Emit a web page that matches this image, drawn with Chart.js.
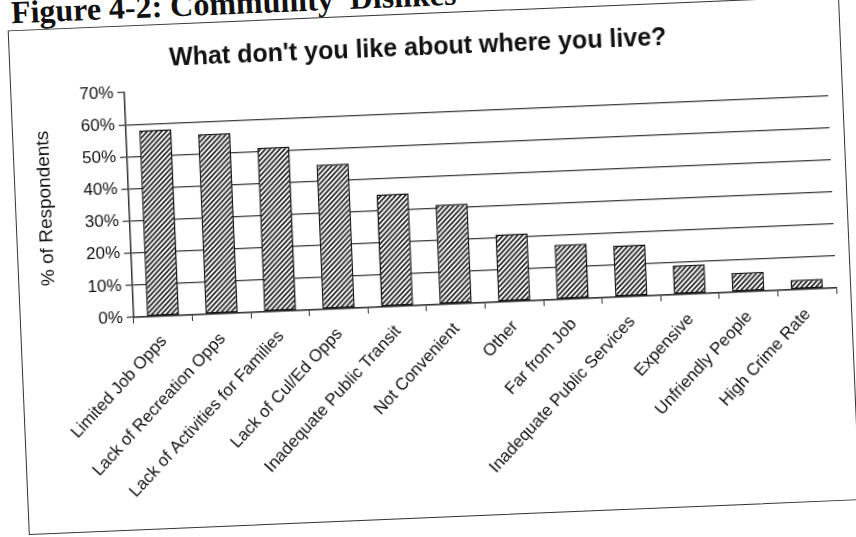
<!DOCTYPE html>
<html>
<head>
<meta charset="utf-8">
<script src="https://cdn.jsdelivr.net/npm/chart.js@4.4.0/dist/chart.umd.min.js"></script>
<style>
  html, body { margin: 0; padding: 0; background: #fff; overflow: hidden; }
  #page {
    position: absolute; left: 0; top: 0; width: 856px; height: 537px;
    transform: rotate(-2.4deg); transform-origin: 428px 268px;
  }
  #caption {
    position: absolute; left: 22px; top: -21px;
    font: bold 32px "Liberation Serif", "Times New Roman", serif;
    line-height: 1; white-space: pre; color: #111;
  }
  #frame {
    position: absolute; left: 18px; top: 13px; width: 832px; height: 505px;
    border: 1.5px solid #333; box-sizing: border-box;
  }
  #frame .wrap { position: absolute; left: 0; top: 0; right: 0; bottom: 0; }
</style>
</head>
<body>
<div id="page">
  <div id="caption">Figure 4-2: Community  Dislikes</div>
  <div id="frame"><div class="wrap"><canvas id="js--dislikes"></canvas></div></div>
</div>
<script>
const categories = [
  "Limited Job Opps",
  "Lack of Recreation Opps",
  "Lack of Activities for Families",
  "Lack of Cul/Ed Opps",
  "Inadequate Public Transit",
  "Not Convenient",
  "Other",
  "Far from Job",
  "Inadequate Public Services",
  "Expensive",
  "Unfriendly People",
  "High Crime Rate"
];
const respondents = [58, 56, 51, 45, 35, 31, 21, 17, 16, 9, 6, 3];
const yTicks = [0, 10, 20, 30, 40, 50, 60, 70];

const chartTitle = "What don't you like about where you live?";
const yTitle = "% of Respondents";

// diagonal hatch fill like the old excel bars
function makeHatch() {
  const c = document.createElement("canvas");
  c.width = 5;
  c.height = 5;
  const g = c.getContext("2d");
  g.fillStyle = "#fff";
  g.fillRect(0, 0, 5, 5);
  g.strokeStyle = "#2a2a2a";
  g.lineWidth = 1.8;
  g.beginPath();
  g.moveTo(-1, 6); g.lineTo(6, -1);
  g.moveTo(-1, 1); g.lineTo(1, -1);
  g.moveTo(4, 6); g.lineTo(6, 4);
  g.stroke();
  return g.createPattern(c, "repeat");
}

const font = "'Liberation Sans', Arial, sans-serif";
const lineColor = "#333";

const data = {
  labels: categories,
  datasets: [
    {
      label: yTitle,
      data: respondents,
      backgroundColor: makeHatch(),
      borderColor: "#111",
      borderWidth: 1.5,
      borderSkipped: false,
      categoryPercentage: 1,
      barPercentage: 0.55
    }
  ]
};

const config = {
  type: "bar",
  data: data,
  options: {
    responsive: true,
    maintainAspectRatio: false,
    animation: false,
    layout: { padding: { left: 0, right: 14, top: 0, bottom: 0 } },
    plugins: {
      legend: { display: false },
      tooltip: { enabled: false },
      title: {
        display: true,
        text: chartTitle,
        color: "#111",
        font: { family: font, size: 25, weight: "bold" },
        padding: { top: 19, bottom: 17 }
      }
    },
    scales: {
      x: {
        grid: {
          display: true,
          drawOnChartArea: false,
          offset: true,
          color: lineColor,
          tickLength: 6
        },
        border: { display: true, color: lineColor, width: 1.5 },
        ticks: {
          autoSkip: false,
          minRotation: 45,
          maxRotation: 45,
          padding: 9,
          color: "#111",
          font: { family: font, size: 17 }
        },
        afterFit: function(scale) { scale.height = 212; }
      },
      y: {
        min: 0,
        max: 70,
        afterBuildTicks: function(scale) {
          scale.ticks = yTicks.map(function(v) { return { value: v }; });
        },
        grid: {
          color: function(ctx) {
            // no line along the 70% top
            if (ctx.index === yTicks.length - 1) return "rgba(0,0,0,0)";
            return "#3a3a3a";
          },
          tickColor: lineColor,
          lineWidth: 1.2,
          tickLength: 7
        },
        border: { display: true, color: lineColor, width: 1.5 },
        ticks: {
          padding: 4,
          color: "#111",
          font: { family: font, size: 17 },
          callback: function(v) { return v + "%"; }
        },
        title: {
          display: true,
          text: yTitle,
          color: "#111",
          font: { family: font, size: 19 },
          padding: { top: 18, bottom: 4 }
        },
        afterFit: function(scale) { scale.width = 113; }
      }
    }
  }
};

const dislikesChart = new Chart(document.getElementById("js--dislikes"), config);
</script>
</body>
</html>
